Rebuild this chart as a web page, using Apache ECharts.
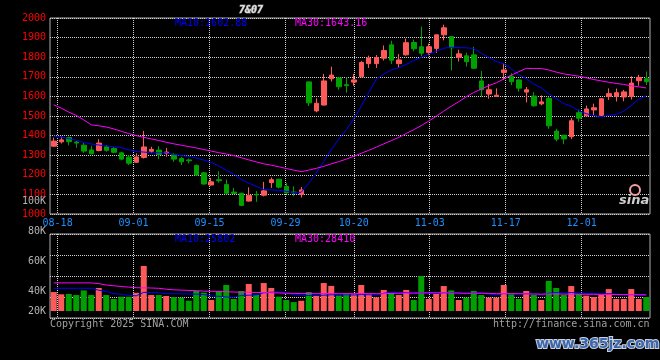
<!DOCTYPE html>
<html><head><meta charset="utf-8">
<script src="https://cdn.jsdelivr.net/npm/echarts@6/dist/echarts.min.js"></script>
<style>html,body{margin:0;padding:0;background:#000;}#c{width:660px;height:360px;}</style>
</head><body><div id="c"></div>
<script>
// ---------- DATA ----------
const dates = ['08-15','08-18','08-19','08-20','08-21','08-22','08-25','08-26','08-27','08-28','08-29',
'09-01','09-02','09-03','09-04','09-05','09-08','09-09','09-10','09-11','09-12',
'09-15','09-16','09-17','09-18','09-19','09-22','09-23','09-24','09-25','09-26','09-29','09-30',
'10-09','10-10','10-13','10-14','10-15','10-16','10-17','10-20','10-21','10-22','10-23','10-24','10-27','10-28','10-29','10-30','10-31',
'11-03','11-04','11-05','11-06','11-07','11-10','11-11','11-12','11-13','11-14','11-17','11-18','11-19','11-20','11-21','11-24','11-25','11-26','11-27','11-28',
'12-01','12-02','12-03','12-04','12-05','12-08','12-09','12-10','12-11','12-12'];
const gridDates = ['08-18','09-01','09-15','09-29','10-20','11-03','11-17','12-01'];

const opens = [1346,1368,1390,1367,1351,1327,1324,1343,1334,1312,
1290,1264,1288,1320,1326,1310,1304,1283,1276,1248,
1210,1148,1175,1150,1112,1106,1066,1100,1096,1160,
1177,1141,1112,1100,1674,1526,1556,1690,1694,1660,
1673,1700,1767,1767,1795,1863,1767,1812,1875,1853,
1824,1845,1914,1905,1800,1807,1812,1679,1612,1600,
1722,1703,1684,1622,1602,1562,1590,1423,1402,1394,
1517,1501,1531,1503,1600,1600,1597,1600,1680,1690];
const closes = [1372,1378,1369,1362,1321,1307,1362,1325,1315,1280,
1259,1291,1342,1330,1304,1316,1280,1266,1272,1199,
1153,1164,1170,1106,1105,1044,1095,1097,1118,1175,
1137,1108,1108,1123,1567,1565,1679,1709,1649,1655,
1684,1773,1796,1798,1834,1785,1786,1874,1843,1820,
1853,1914,1950,1848,1817,1777,1744,1634,1634,1606,
1735,1675,1642,1634,1552,1572,1450,1382,1383,1476,
1489,1536,1542,1588,1614,1619,1623,1668,1697,1675];
const lows = [1343,1360,1350,1338,1312,1305,1320,1318,1310,1274,
1250,1262,1283,1310,1280,1292,1266,1250,1258,1196,
1150,1145,1160,1100,1102,1040,1064,1062,1090,1133,
1130,1104,1090,1084,1551,1519,1553,1676,1634,1619,
1654,1698,1745,1745,1783,1765,1747,1808,1830,1805,
1810,1822,1886,1732,1778,1752,1740,1599,1588,1599,
1684,1657,1624,1569,1548,1555,1435,1371,1356,1382,
1471,1497,1505,1498,1582,1574,1575,1584,1654,1658];
const highs = [1390,1395,1395,1374,1363,1348,1382,1352,1342,1318,
1300,1310,1424,1343,1346,1337,1310,1292,1283,1252,
1215,1184,1218,1176,1133,1108,1136,1117,1164,1186,
1181,1158,1141,1138,1676,1590,1715,1752,1696,1697,
1715,1781,1808,1811,1860,1884,1816,1895,1890,1956,
1870,1916,1966,1907,1838,1823,1853,1730,1663,1641,
1768,1718,1686,1648,1622,1605,1598,1435,1404,1490,
1533,1553,1563,1590,1641,1640,1633,1703,1710,1727];
const ma10 = [1398,1392,1385,1376,1365,1357,1352,1347,1343,1339,
1328,1319,1316,1313,1312,1312,1304,1298,1294,1286,
1275,1263,1245,1223,1203,1176,1157,1141,1125,1123,
1121,1116,1109,1111,1157,1209,1268,1329,1382,1430,
1485,1551,1620,1688,1714,1736,1747,1763,1783,1799,
1816,1830,1846,1851,1849,1848,1844,1820,1799,1778,
1766,1742,1711,1690,1663,1643,1613,1588,1563,1550,
1526,1512,1502,1497,1503,1508,1525,1554,1585,1603];
const ma30 = [1557,1540,1520,1503,1480,1455,1450,1444,1434,1422,
1410,1400,1391,1383,1375,1366,1358,1351,1344,1337,
1329,1321,1313,1306,1298,1287,1276,1266,1256,1249,
1241,1232,1224,1216,1224,1233,1243,1256,1267,1280,
1294,1310,1325,1341,1358,1374,1391,1411,1430,1451,
1474,1499,1525,1550,1573,1598,1620,1637,1655,1669,
1689,1708,1726,1743,1742,1742,1735,1724,1715,1709,
1703,1695,1686,1679,1672,1666,1661,1654,1649,1643];
// volume (in K, as read against the panel's K labels)
const volumes = [39.3,37.8,38,37.3,40.4,37.3,42,37.3,34.7,36.2,
36.2,38.8,56.7,37.3,37.3,36.7,36,35.6,33.5,40,
38.9,34,40,44,34.7,40,44.7,37.5,45.3,42,
36.2,34,32.6,33.5,39.3,36.7,45.3,43.4,37,38.5,
37.8,44,38,35.8,40.7,39.1,37.3,40.7,34,50,
34.7,38,43.3,40.4,34,35.6,40,37.3,35.6,35.6,
44,38.7,34.7,40,37.3,34,46.7,42,37.3,43.3,
38,36.9,36,37.3,41.3,34.7,34.7,41.3,34.7,36];
const volMa10 = [41.8,41.8,41.8,41.8,41.8,41.8,40.5,39.8,38.2,37.8,
37.0,36.8,39.1,39.0,38.8,38.3,38.2,38.1,38.0,37.9,
37.6,36.7,36.5,36.0,35.8,37.0,37.2,37.4,38.8,39.2,
39.3,39.0,37.5,37.2,37.0,37.1,37.2,37.5,37.4,37.5,
37.3,37.6,37.5,37.4,38.5,39.1,39.1,38.9,38.6,38.8,
38.4,38.5,38.8,39.0,38.7,38.4,38.6,38.9,37.9,37.5,
38.3,37.9,38.0,38.2,37.9,37.6,38.5,38.9,38.6,39.0,
38.7,38.4,38.3,38.1,38.2,37.9,37.4,37.6,37.4,36.9];
const volMa30 = [45.4,45.4,45.4,45.4,45.4,45.4,44.9,44.0,43.5,43.0,
42.6,42.2,42.1,42.0,41.8,41.2,40.8,40.6,40.4,40.2,
39.9,39.8,39.7,39.5,39.3,39.2,39.2,39.0,38.9,38.8,
38.7,38.5,38.4,38.3,38.3,38.2,38.3,38.3,38.2,38.2,
38.2,38.3,38.3,38.2,38.2,38.4,38.5,38.6,38.6,38.7,
38.8,38.8,38.8,38.7,38.6,38.5,38.5,38.5,38.4,38.2,
38.3,38.2,38.2,38.1,38.0,37.9,38.0,38.0,37.9,37.9,
37.9,37.8,37.8,37.7,37.7,37.6,37.6,37.6,37.5,37.5];
const priceTicks = {min:1000, max:2000, step:100};
const volTickValues = [100, 80, 60, 40, 80/3];
const volTickLabels = ['100K','80K','60K','40K','20K'];
const priceMaText = ['MA10:1602.88', 'MA30:1643.16'];
const volMaText = ['MA10:25802', 'MA30:28410'];
const titleText = '7&07';
const footLeft = 'Copyright 2025 SINA.COM';
const footRight = 'http://finance.sina.com.cn';
const watermark = 'www.365jz.com';

// ---------- CHART ----------
const FONT = 'DejaVu Sans Mono';
const RED = '#ff5a5a', GREEN = '#00a000';
const dotted = {show:true, lineStyle:{color:'#d0d0d0', type:[1,1], width:1}};
const isGridIdx = (i) => gridDates.indexOf(dates[i]) >= 0;
const vLines = {show:true, interval:(i)=>isGridIdx(i), lineStyle:{color:'#d0d0d0', type:[1,1], width:1}};

const chart = echarts.init(document.getElementById('c'), null, {renderer:'canvas', width:660, height:360});
const txt = (t, l, tp, color, extra) => ({text:t, left:l, top:tp, padding:0,
  textStyle:Object.assign({color:color, fontSize:10, fontWeight:'normal', fontFamily:FONT}, extra||{})});

chart.setOption({
  backgroundColor:'#000',
  animation:false,
  textStyle:{fontFamily:FONT},
  title:[
    txt(titleText, 239, 5, '#e0e0e0', {fontStyle:'italic', fontWeight:'bold', textBorderColor:'#777', textBorderWidth:1}),
    txt(priceMaText[0], 175, 18, '#0000ff'),
    txt(priceMaText[1], 295, 18, '#ff00ff'),
    txt(volMaText[0], 175, 234, '#0000ff'),
    txt(volMaText[1], 295, 234, '#ff00ff'),
    txt(footLeft, 50, 319, '#a0a0a0'),
    txt(footRight, 493, 319, '#a0a0a0'),
    txt(watermark, 536, 337, '#3d67a8', {fontFamily:'DejaVu Sans', fontSize:14, fontWeight:'bold', textBorderColor:'#c8d2e4', textBorderWidth:2}),
    txt('sina', 619, 194, '#cfcfcf', {fontFamily:'DejaVu Sans', fontSize:13, fontStyle:'italic', fontWeight:'bold'})
  ],
  graphic:[
    {type:'circle', shape:{cx:635, cy:190, r:5}, style:{fill:'none', stroke:'#f2a0a0', lineWidth:2}, z:10}
  ],
  grid:[
    {left:50, top:18, width:600, height:196, show:true, borderColor:'#b0b0b0', borderWidth:1},
    {left:50, top:234, width:600, height:84, show:true, borderColor:'#b0b0b0', borderWidth:1},
    {left:50, top:201, width:600, height:110, show:false}
  ],
  xAxis:[
    {type:'category', gridIndex:0, data:dates, boundaryGap:true, show:false},
    {type:'category', gridIndex:0, data:dates, boundaryGap:false, position:'bottom',
      axisLine:{show:false}, axisTick:{show:false},
      axisLabel:{interval:(i)=>isGridIdx(i), color:'#1e90ff', fontSize:10, margin:4, fontFamily:FONT},
      splitLine:vLines},
    {type:'category', gridIndex:1, data:dates, boundaryGap:false,
      axisLine:{show:false}, axisTick:{show:false}, axisLabel:{show:false}, splitLine:vLines},
    {type:'category', gridIndex:2, data:dates, boundaryGap:true, show:false}
  ],
  yAxis:[
    {type:'value', gridIndex:0, min:priceTicks.min, max:priceTicks.max, interval:priceTicks.step,
      axisLine:{show:false}, axisTick:{show:false},
      axisLabel:{color:'#ff0000', fontSize:10, margin:4, fontFamily:FONT, formatter:(v)=>String(v)}, splitLine:dotted},
    {type:'value', gridIndex:1, min:0, max:84, interval:21, inverse:true,
      axisLine:{show:false}, axisTick:{show:false}, axisLabel:{show:false}, splitLine:dotted},
    {type:'value', gridIndex:2, min:volTickValues[4], max:volTickValues[0],
      axisLine:{show:false}, axisTick:{show:false}, splitLine:{show:false},
      axisLabel:{customValues:volTickValues, color:'#b4b4b4', fontSize:10, margin:4, fontFamily:FONT,
        formatter:(v)=>{let b=0; volTickValues.forEach((t,i)=>{ if(Math.abs(t-v)<Math.abs(volTickValues[b]-v)) b=i; }); return volTickLabels[b];}}}
  ],
  series:[
    {type:'candlestick', xAxisIndex:0, yAxisIndex:0, barWidth:5,
      data:dates.map((d,i)=>[opens[i], closes[i], lows[i], highs[i]]),
      itemStyle:{color:RED, color0:GREEN, borderColor:RED, borderColor0:GREEN, borderWidth:1}},
    {type:'line', xAxisIndex:0, yAxisIndex:0, data:ma10, symbol:'none', lineStyle:{color:'#0000ff', width:1}, z:5},
    {type:'line', xAxisIndex:0, yAxisIndex:0, data:ma30, symbol:'none', lineStyle:{color:'#ff00ff', width:1}, z:5},
    {type:'bar', xAxisIndex:3, yAxisIndex:2, barWidth:6, clip:true,
      data:volumes.map((v,i)=>({value:v, itemStyle:{color: closes[i]>=opens[i] ? RED : GREEN}}))},
    {type:'line', xAxisIndex:3, yAxisIndex:2, data:volMa10, symbol:'none', lineStyle:{color:'#0000ff', width:1}, z:5},
    {type:'line', xAxisIndex:3, yAxisIndex:2, data:volMa30, symbol:'none', lineStyle:{color:'#ff00ff', width:1}, z:5}
  ]
});
</script></body></html>
